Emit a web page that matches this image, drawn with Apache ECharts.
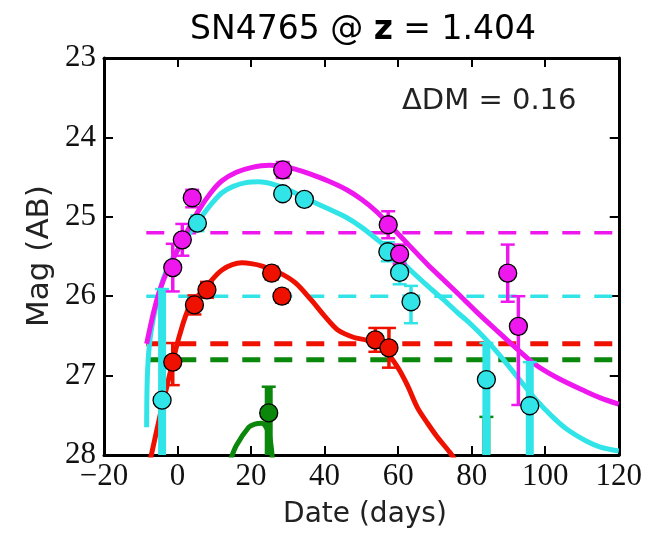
<!DOCTYPE html>
<html>
<head>
<meta charset="utf-8">
<script src="https://cdn.jsdelivr.net/npm/echarts@6/dist/echarts.min.js"></script>
<style>html,body{margin:0;padding:0;background:#fff;}#c{width:645px;height:534px;}</style>
</head>
<body>
<div id="c"></div>
<script>
// ---- data ----
const xTicks = [-20, 0, 20, 40, 60, 80, 100, 120];
const yTicks = [23, 24, 25, 26, 27, 28];
// points: [day, mag, errMinus, errPlus]
const magentaPts = [[-1.3,25.64,0.3,0.3],[1.3,25.29,0.2,0.2],[4.0,24.76,0.1,0.12],[28.6,24.41,0.1,0.1],[57.3,25.1,0.17,0.17],[60.4,25.47,0.12,0.12],[89.8,25.71,0.36,0.36],[92.7,26.38,0.38,0.99]];
const cyanPts = [[-4.2,27.31,1.4,1.5],[5.4,25.08,0.1,0.1],[28.6,24.71,0.05,0.05],[34.5,24.78,0.05,0.05],[57.2,25.44,0.12,0.12],[60.4,25.70,0.15,0.15],[63.5,26.07,0.2,0.27],[84,27.05,0.46,1.5],[95.8,27.38,0.55,1.2]];
const redPts = [[-1.3,26.83,0.24,0.29],[4.6,26.11,0.12,0.12],[8,25.92,0.1,0.1],[25.6,25.71,0.08,0.08],[28.4,26.0,0.08,0.08],[53.8,26.55,0.15,0.15],[57.5,26.65,0.25,0.25]];
const greenPts = [[24.8,27.47,0.33,1.0],[84,28.15,0.63,0.6]];
// model curves: [day, mag]
const magentaCurve = [[-8.4,26.6],[-6.5,26.2],[-5,25.95],[-3,25.7],[0,25.42],[3,25.15],[6,24.9],[9,24.7],[12,24.55],[16,24.44],[20,24.38],[25,24.35],[28,24.36],[32,24.4],[36,24.46],[41,24.55],[46,24.66],[50,24.78],[54,24.93],[58,25.12],[63,25.36],[68,25.6],[72.5,25.8],[77,26.0],[81.4,26.2],[87,26.44],[92,26.65],[97,26.85],[103,27.02],[111,27.2],[115,27.28],[120,27.36]];
const cyanCurve = [[-8.4,27.65],[-8.2,27.0],[-7.5,26.55],[-6,26.15],[-4,25.8],[-2,25.58],[0,25.42],[3,25.22],[6,25.03],[9,24.85],[12,24.7],[15,24.62],[18.6,24.57],[22,24.56],[26.7,24.6],[31,24.68],[36.4,24.8],[41,24.9],[45.6,25.0],[50,25.13],[54.4,25.29],[59,25.47],[63.3,25.67],[68,25.87],[72.5,26.05],[76,26.2],[79.5,26.34],[84,26.55],[89,26.82],[93,27.05],[97.6,27.31],[102,27.52],[106,27.68],[111,27.82],[115,27.9],[120,27.95]];
const redCurve = [[-7.6,28.1],[-4.5,27.45],[-1.3,26.83],[0.5,26.5],[3.2,26.14],[7.8,25.88],[12.1,25.67],[17.5,25.58],[20,25.59],[23,25.62],[27.5,25.7],[32,25.83],[36.4,26.05],[40,26.25],[43.7,26.43],[48,26.52],[51.8,26.56],[56.3,26.68],[59.8,26.89],[62.5,27.12],[65.2,27.4],[68,27.6],[70.6,27.77],[74.1,27.97],[76,28.1]];
const greenCurve = [[14.5,28.05],[16,27.88],[19.4,27.65],[21,27.61],[22.9,27.6],[24.8,27.72],[25.8,28.05]];
// detection limits (dashed)
const limitStart = -8.5, limitEnd = 120;
const magentaLimit = 25.2, cyanLimit = 26.0, redLimit = 26.6, greenLimit = 26.8;

const C = {magenta:'#ee18ee', cyan:'#30e4e8', red:'#ee1100', green:'#0b870b'};
const chart = echarts.init(document.getElementById('c'), null, {renderer:'canvas'});

function errSeries(pts, color){
  return {
    type:'custom', data: pts, z: 5,
    renderItem: function(params, api){
      const x = api.value(0), y = api.value(1), lo = api.value(2), hi = api.value(3);
      const cs = params.coordSys;
      const pTop = api.coord([x, y - lo]);
      const pBot = api.coord([x, y + hi]);
      const yMax = cs.y + cs.height, yMin = cs.y;
      const thick = (y + hi) > 28;
      const t = Math.max(pTop[1], yMin), b = Math.min(pBot[1], yMax);
      const lw = thick ? 8 : 3.5;
      const ch = [{type:'line', shape:{x1:pTop[0], y1:t, x2:pTop[0], y2:b}, style:{stroke:color, lineWidth:lw}}];
      const cw = 7;
      if (pTop[1] >= yMin) ch.push({type:'line', shape:{x1:pTop[0]-cw, y1:pTop[1], x2:pTop[0]+cw, y2:pTop[1]}, style:{stroke:color, lineWidth:2.5}});
      if (pBot[1] <= yMax) ch.push({type:'line', shape:{x1:pBot[0]-cw, y1:pBot[1], x2:pBot[0]+cw, y2:pBot[1]}, style:{stroke:color, lineWidth:2.5}});
      return {type:'group', children: ch};
    }
  };
}
function ptSeries(pts, color){
  return {type:'scatter', data: pts.map(p => [p[0], p[1]]), symbol:'circle', symbolSize:18, z:6,
    itemStyle:{color:color, borderColor:'#000', borderWidth:1.3, opacity:1}, clip:true};
}
function curve(d, color){
  return {type:'line', data:d, showSymbol:false, smooth:0.3, lineStyle:{color:color, width:5}, z:3, clip:true, silent:true};
}
function limit(v, color, w){
  return {type:'line', data:[[limitStart, v],[limitEnd, v]], showSymbol:false, lineStyle:{color:color, width:w, type:[18,14]}, z:2, silent:true};
}
const axisLine = {show:true, onZero:false, lineStyle:{color:'#000', width:3}};
const tick = {show:true, inside:true, length:9, lineStyle:{color:'#000', width:2}};
const option = {
  animation:false,
  grid:{left:104, right:22, top:58, bottom:79, show:false},
  xAxis:[
    {type:'value', min:-20, max:120, interval:20, position:'bottom', axisLine:axisLine, axisTick:tick,
     axisLabel:{fontFamily:'Liberation Serif', fontSize:31, color:'#111', margin:6,
       formatter: v => xTicks.includes(v) ? (v<0 ? '\u2212'+Math.abs(v) : String(v)) : ''},
     splitLine:{show:false}},
    {type:'value', min:-20, max:120, interval:20, position:'top', axisLine:axisLine, axisTick:tick,
     axisLabel:{show:false}, splitLine:{show:false}}
  ],
  yAxis:[
    {type:'value', min:23, max:28, interval:1, inverse:true, position:'left', axisLine:axisLine, axisTick:tick,
     axisLabel:{fontFamily:'Liberation Serif', fontSize:31, color:'#111', margin:8,
       formatter: v => yTicks.includes(v) ? String(v) : ''},
     splitLine:{show:false}},
    {type:'value', min:23, max:28, interval:1, inverse:true, position:'right', axisLine:axisLine, axisTick:tick,
     axisLabel:{show:false}, splitLine:{show:false}}
  ],
  graphic:[
    {type:'text', x:363, y:30, style:{text:'{a|SN4765 @ }{b|z}{a| = 1.404}', align:'center', verticalAlign:'middle',
      rich:{a:{fontFamily:'DejaVu Sans', fontSize:33, fill:'#000'}, b:{fontFamily:'DejaVu Sans', fontSize:33, fontWeight:'bold', fill:'#000'}}}},
    {type:'text', x:402, y:101, style:{text:'\u0394DM = 0.16', fontFamily:'DejaVu Sans', fontSize:29, fill:'#222', verticalAlign:'middle', align:'left'}},
    {type:'text', x:365, y:515, style:{text:'Date (days)', fontFamily:'DejaVu Sans', fontSize:28, fill:'#222', verticalAlign:'middle', align:'center'}},
    {type:'text', x:40, y:256, rotation:Math.PI/2, style:{text:'Mag (AB)', fontFamily:'DejaVu Sans', fontSize:31, fill:'#222', verticalAlign:'middle', align:'center'}}
  ],
  series:[
    limit(magentaLimit, C.magenta, 3.5), limit(cyanLimit, C.cyan, 3.5), limit(redLimit, C.red, 5), limit(greenLimit, C.green, 5),
    curve(greenCurve, C.green), curve(redCurve, C.red), curve(cyanCurve, C.cyan), curve(magentaCurve, C.magenta),
    errSeries(greenPts, C.green), ptSeries(greenPts, C.green),
    errSeries(redPts, C.red), ptSeries(redPts, C.red),
    errSeries(cyanPts, C.cyan), ptSeries(cyanPts, C.cyan),
    errSeries(magentaPts, C.magenta), ptSeries(magentaPts, C.magenta)
  ]
};
chart.setOption(option);
</script>
</body>
</html>
